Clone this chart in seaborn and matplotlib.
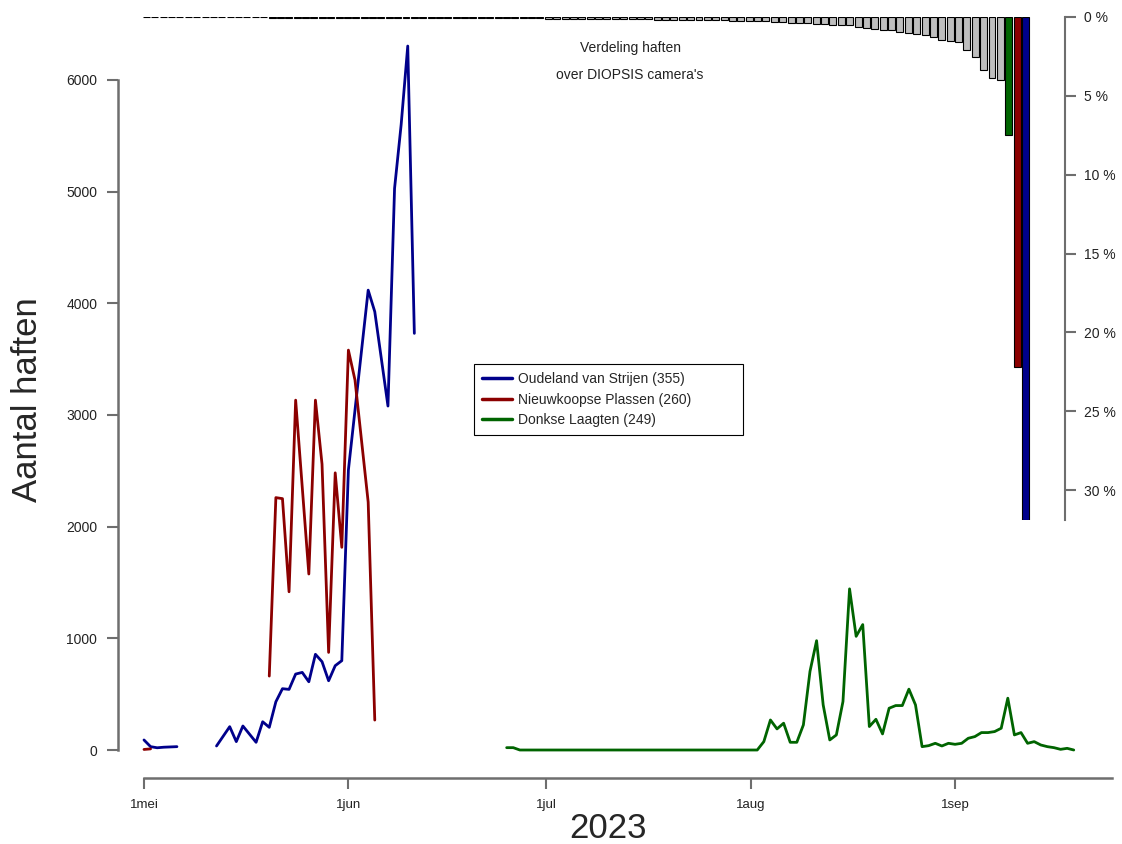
import numpy as np
import pandas as pd
import seaborn as sns
import matplotlib.pyplot as plt

# --- data (days counted from 1 mei 2023) ---
site_names = ['Oudeland van Strijen (355)', 'Nieuwkoopse Plassen (260)', 'Donkse Laagten (249)']
site_colors = ['#00008B', '#8B0000', '#006400']

oud_days_a = [0, 1, 2, 3, 5]
oud_a = [90, 30, 20, 25, 30]
oud_days_b = [11, 13, 14, 15, 17, 18, 19, 20, 21, 22, 23, 24, 25, 26, 27, 28, 29, 30, 31,
              34, 35, 37, 38, 39, 40, 41]
oud_b = [36, 209, 75, 215, 69, 253, 203, 432, 549, 543, 680, 695, 611, 857, 791, 620, 755, 800, 2507,
         4118, 3925, 3080, 5029, 5600, 6304, 3731]

nieuw_days_a = [0, 1]
nieuw_a = [5, 10]
nieuw_days_b = [19, 20, 21, 22, 23, 25, 26, 27, 28, 29, 30, 31, 32, 34, 35]
nieuw_b = [662, 2260, 2251, 1417, 3133, 1576, 3133, 2560, 874, 2482, 1815, 3581, 3313, 2220, 268]

donk_days = [55, 56, 57, 93] + list(range(94, 142))
donk = [21, 21, 0, 0,
        75, 269, 189, 240, 69, 69, 225, 704, 979, 404, 90, 135, 434, 1443, 1018, 1123,
        210, 275, 144, 374, 398, 398, 545, 404, 30, 39, 60, 36, 60, 51, 60, 105,
        120, 156, 156, 165, 195, 464, 135, 156, 60, 75, 45, 30, 21, 6, 15, 0]

# share of mayflies per DIOPSIS camera (%), sorted ascending, last three are the sites above
camera_pct = [0.02, 0.02, 0.02, 0.02, 0.02, 0.02, 0.03, 0.03, 0.03, 0.03, 0.03, 0.03, 0.03, 0.03, 0.03,
              0.04, 0.04, 0.04, 0.04, 0.04, 0.04, 0.04, 0.04, 0.04, 0.05, 0.05, 0.05, 0.05, 0.05, 0.05,
              0.05, 0.05, 0.06, 0.06, 0.06, 0.06, 0.06, 0.07, 0.07, 0.07, 0.07, 0.08, 0.08, 0.08, 0.08,
              0.09, 0.09, 0.09, 0.10, 0.10, 0.10, 0.11, 0.11, 0.12,
              0.12, 0.13, 0.13, 0.14, 0.14, 0.15, 0.15, 0.16, 0.17, 0.18, 0.18, 0.19, 0.20, 0.20,
              0.21, 0.22, 0.23, 0.24, 0.25, 0.26,
              0.27, 0.32, 0.32, 0.36, 0.36, 0.38, 0.42, 0.42, 0.49, 0.53, 0.53, 0.63, 0.70, 0.74,
              0.80, 0.85, 0.95, 0.99, 1.06, 1.16, 1.27, 1.48, 1.54, 1.59, 2.11, 2.54, 3.38, 3.85, 4.02,
              7.5, 22.2, 31.9]

month_ticks = [0, 31, 61, 92, 123]
month_labels = ['1mei', '1jun', '1jul', '1aug', '1sep']

# --- build long table, one "seg" per unbroken stretch ---
rows = []
segs = [(site_names[0], 'o1', oud_days_a, oud_a), (site_names[0], 'o2', oud_days_b, oud_b),
        (site_names[1], 'n1', nieuw_days_a, nieuw_a), (site_names[1], 'n2', nieuw_days_b, nieuw_b),
        (site_names[2], 'd1', donk_days, donk)]
for site, seg, days, vals in segs:
    for d, v in zip(days, vals):
        rows.append((site, seg, d, v))
df = pd.DataFrame(rows, columns=['site', 'seg', 'day', 'count'])

sns.set_style('white')
plt.rcParams['font.family'] = ['Liberation Sans', 'DejaVu Sans']

W, H = 1122, 844
fig = plt.figure(figsize=(W / 100, H / 100), dpi=100)
axis_col = '#6e6e6e'

# main axes
ax = fig.add_axes([118 / W, (H - 778) / H, (1112 - 118) / W, (778 - 17) / H])
sns.lineplot(data=df, x='day', y='count', hue='site', units='seg', estimator=None,
             hue_order=site_names, palette=dict(zip(site_names, site_colors)),
             sort=False, lw=2, ax=ax)
ax.set_xlim(-3.94, 146.8)
ax.set_ylim(-250.7, 6564)
for s in ['top', 'right']:
    ax.spines[s].set_visible(False)
ax.spines['left'].set_bounds(0, 6000)
ax.spines['bottom'].set_bounds(0, 146.8)
for s in ['left', 'bottom']:
    ax.spines[s].set_color(axis_col)
    ax.spines[s].set_linewidth(1.8)
ax.set_xticks(month_ticks, month_labels)
ax.set_yticks(range(0, 7000, 1000))
ax.tick_params(axis='both', left=True, bottom=True, length=8, width=1.5, color=axis_col,
               labelsize=10, pad=7, labelcolor='#222222')
ax.tick_params(axis='x', labelsize=9.5)
ax.set_xlabel('')
ax.set_ylabel('')

handles, labels = ax.get_legend_handles_labels()
leg = ax.legend(handles, labels, loc='upper left',
                bbox_to_anchor=(474 / W, 1 - 436 / H, 269 / W, 72 / H), mode='expand',
                bbox_transform=fig.transFigure, frameon=True, fancybox=False, edgecolor='black',
                framealpha=1, fontsize=10, handlelength=2.1, handletextpad=0.5,
                labelspacing=0.45, borderpad=0.6, borderaxespad=0)
leg.get_frame().set_linewidth(0.8)
for ln in leg.get_lines():
    ln.set_linewidth(2.5)

# inset bar chart hanging from the top
ax2 = fig.add_axes([140 / W, (H - 520) / H, (1065 - 140) / W, (520 - 17) / H])
ax2.set_facecolor('none')
bar_ids = [f'c{i}' for i in range(len(camera_pct))]
bar_cols = ['#BEBEBE'] * (len(camera_pct) - 3) + ['#006400', '#8B0000', '#00008B']
sns.barplot(x=bar_ids, y=camera_pct, hue=bar_ids, palette=bar_cols, legend=False,
            width=0.833, edgecolor='black', linewidth=0.8, saturation=1, ax=ax2)
ax2.set_xlim(-0.775, 109.72)
ax2.set_ylim(31.9, 0)
for s in ['top', 'left', 'bottom']:
    ax2.spines[s].set_visible(False)
ax2.spines['right'].set_bounds(0, 31.9)
ax2.spines['right'].set_color(axis_col)
ax2.spines['right'].set_linewidth(1.5)
ax2.yaxis.tick_right()
ax2.set_yticks(range(0, 35, 5), [f'{v} %' for v in range(0, 35, 5)])
ax2.set_xticks([])
ax2.tick_params(axis='y', right=True, length=8, width=1.5, color=axis_col, labelsize=10, pad=6,
                labelcolor='#222222')
ax2.set_xlabel('')
ax2.set_ylabel('')

fig.text(630 / W, 1 - 48 / H, 'Verdeling haften', ha='center', va='center', fontsize=10, color='#222222')
fig.text(630 / W, 1 - 75 / H, "over DIOPSIS camera's", ha='center', va='center', fontsize=10, color='#222222')
fig.text(608 / W, 1 - 828 / H, '2023', ha='center', va='center', fontsize=25)
fig.text(28 / W, 1 - 400 / H, 'Aantal haften', ha='center', va='center', rotation=90, fontsize=25)

fig.savefig('out.png', dpi=100)
